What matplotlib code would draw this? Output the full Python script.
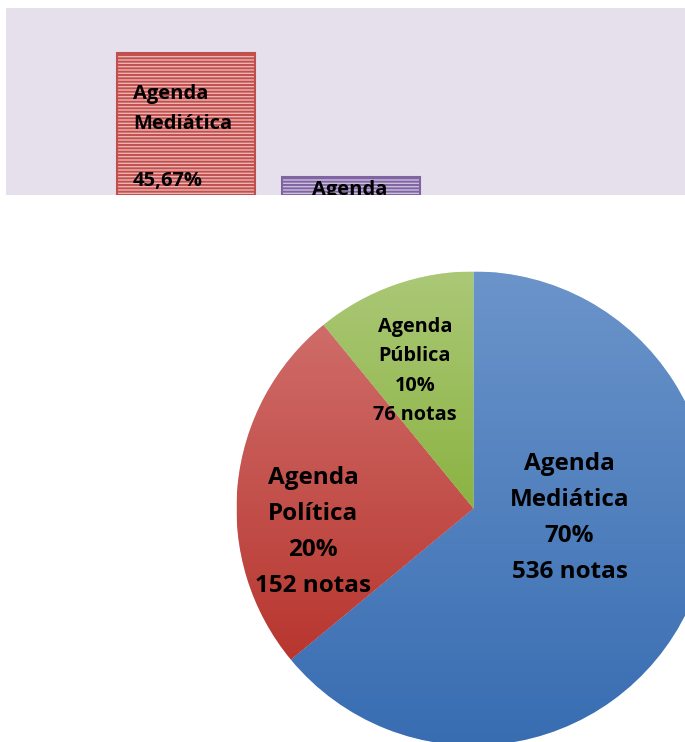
import numpy as np
import matplotlib
matplotlib.use('Agg')
import matplotlib.pyplot as plt
import matplotlib.transforms as mtransforms
from matplotlib.colors import to_rgb

plt.rcParams['font.family'] = ['Open Sans', 'DejaVu Sans']
plt.rcParams['hatch.linewidth'] = 1.4

# bar chart fragment (cut at the bottom of the page)
bar_names = ['Agenda\nMediática', 'Agenda']
bar_values = [45.67, 19.94]
bar_value_labels = ['45,67%', '']

# pie chart
pie_names = ['Agenda\nMediática', 'Agenda\nPolítica', 'Agenda\nPública']
pie_pct = ['70%', '20%', '10%']
pie_notas = [536, 152, 76]
pie_sizes = [64.0, 25.1, 10.9]   # wedge sizes as drawn in the picture

fig = plt.figure(figsize=(6.85, 7.42), dpi=100)
W, H = 685., 742.

# ---- top: bars
ax = fig.add_axes([6/W, (H-195)/H, (W-6)/W, 187/H])
ax.set_facecolor('#e6e0ec')
for s in ax.spines.values():
    s.set_visible(False)
ax.set_xticks([])
ax.set_yticks([])

x = np.arange(len(bar_values))
faces = ['#eeb4b3', '#cbc0dc']
lines = ['#c0504d', '#8064a2']
ax.bar(x, bar_values, width=0.835, color=faces, edgecolor='none')
ax.bar(x, bar_values, width=0.835, color='none', edgecolor=lines, hatch='-----', linewidth=1.5)
ax.set_xlim(-1.091, 3.024)
ax.set_ylim(16.2, 55)

t1 = mtransforms.offset_copy(ax.transData, fig=fig, x=11, y=-40.5, units='points')
ax.text(x[0]-0.415, bar_values[0], bar_names[0], transform=t1, ha='left', va='center',
        fontsize=14.5, fontweight='bold', linespacing=1.65, clip_on=True)
t2 = mtransforms.offset_copy(ax.transData, fig=fig, x=11, y=-92, units='points')
ax.text(x[0]-0.415, bar_values[0], bar_value_labels[0], transform=t2, ha='left', va='center',
        fontsize=14.5, fontweight='bold', clip_on=True)
t3 = mtransforms.offset_copy(ax.transData, fig=fig, x=-1, y=-9.5, units='points')
ax.text(x[1], bar_values[1], bar_names[1], transform=t3, ha='center', va='center',
        fontsize=14.5, fontweight='bold', clip_on=True)

# ---- bottom: pie
cx, cy, r = 473.5, 508.5, 237.
pax = fig.add_axes([(cx-r)/W, (H-cy-r)/H, 2*r/W, 2*r/H])
tops = ['#6b94ca', '#cf6c69', '#abc877']
bottoms = ['#386db2', '#b8362f', '#8bb342']
wedges, _ = pax.pie(pie_sizes, colors=bottoms, startangle=90, counterclock=False,
                    radius=1, wedgeprops=dict(edgecolor='white', linewidth=0.4))
for w, c0, c1 in zip(wedges, tops, bottoms):
    bb = w.get_path().get_extents()
    grad = np.linspace(to_rgb(c0), to_rgb(c1), 256).reshape(256, 1, 3)
    im = pax.imshow(grad, extent=[bb.x0, bb.x1, bb.y0, bb.y1], origin='upper',
                    aspect='auto', interpolation='bilinear', zorder=w.get_zorder()+0.1)
    im.set_clip_path(w)
pax.set_xlim(-1, 1)
pax.set_ylim(-1, 1)
pax.set_aspect('equal')
pax.axis('off')

labels = ['%s\n%s\n%d notas' % (n, p, k) for n, p, k in zip(pie_names, pie_pct, pie_notas)]
pos = [(0.405, -0.04), (-0.677, -0.1), (-0.247, 0.58)]
sizes = [17.5, 17.5, 14.3]
spacing = [1.66, 1.66, 1.63]
for lab, (px, py), fs, ls in zip(labels, pos, sizes, spacing):
    pax.text(px, py, lab, ha='center', va='center', multialignment='center',
             fontsize=fs, fontweight='bold', linespacing=ls, zorder=10)

fig.savefig('out.png', dpi=100, facecolor='white')
